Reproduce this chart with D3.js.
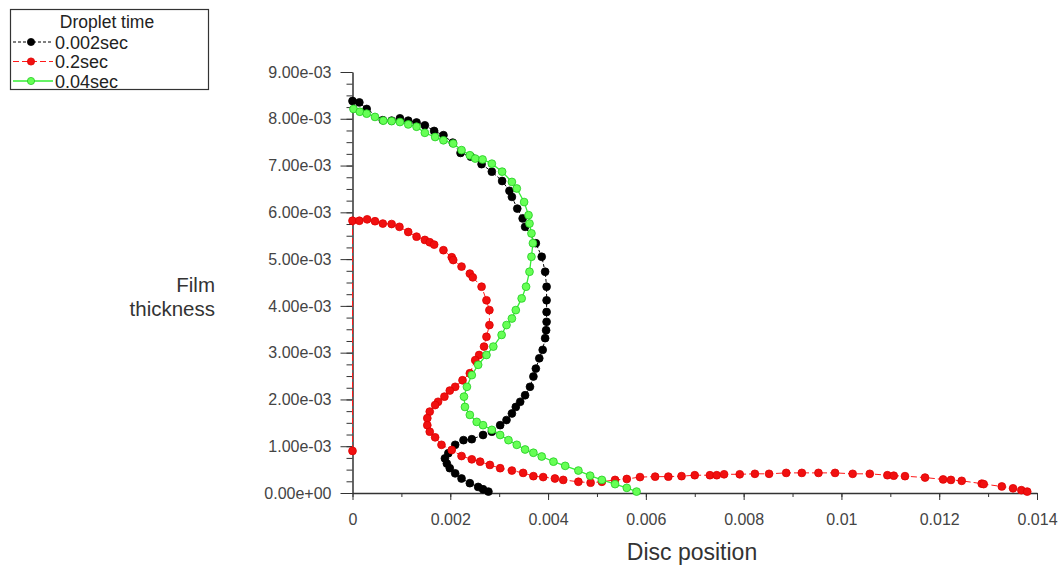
<!DOCTYPE html>
<html><head><meta charset="utf-8">
<script src="https://cdn.jsdelivr.net/npm/d3@7"></script>
<style>body{margin:0;background:#fff}svg{display:block}</style>
</head><body><svg id="c" width="1059" height="568"></svg>
<script>
const legendTitle = "Droplet time";
const seriesNames = ["0.002sec", "0.2sec", "0.04sec"];

const black_x = [0.00000,0.00014,0.00029,0.00062,0.00080,0.00097,0.00114,0.00131,0.00148,0.00167,0.00186,0.00205,0.00221,0.00242,0.00264,0.00285,0.00306,0.00321,0.00326,0.00337,0.00348,0.00353,0.00375,0.00387,0.00394,0.00397,0.00397,0.00397,0.00397,0.00396,0.00394,0.00389,0.00382,0.00375,0.00370,0.00363,0.00353,0.00343,0.00334,0.00326,0.00315,0.00302,0.00285,0.00267,0.00244,0.00227,0.00210,0.00196,0.00189,0.00193,0.00199,0.00210,0.00223,0.00240,0.00257,0.00267,0.00278];
const black_y = [0.00838,0.00835,0.00821,0.00797,0.00796,0.00801,0.00796,0.00792,0.00786,0.00774,0.00765,0.00749,0.00727,0.00719,0.00703,0.00687,0.00667,0.00646,0.00633,0.00608,0.00587,0.00569,0.00534,0.00505,0.00473,0.00441,0.00412,0.00387,0.00366,0.00348,0.00331,0.00306,0.00288,0.00266,0.00249,0.00227,0.00209,0.00195,0.00184,0.00170,0.00156,0.00145,0.00131,0.00124,0.00115,0.00113,0.00103,0.00085,0.00074,0.00063,0.00053,0.00042,0.00031,0.00021,0.00013,0.00008,0.00003];

const red_x = [0.00000,0.00000,0.00014,0.00030,0.00046,0.00062,0.00080,0.00096,0.00114,0.00131,0.00148,0.00158,0.00167,0.00186,0.00203,0.00206,0.00223,0.00240,0.00246,0.00264,0.00274,0.00280,0.00280,0.00274,0.00269,0.00259,0.00251,0.00240,0.00225,0.00210,0.00199,0.00188,0.00175,0.00169,0.00158,0.00153,0.00153,0.00158,0.00169,0.00182,0.00203,0.00223,0.00244,0.00261,0.00281,0.00302,0.00326,0.00349,0.00370,0.00390,0.00414,0.00431,0.00462,0.00487,0.00510,0.00537,0.00561,0.00588,0.00619,0.00646,0.00673,0.00700,0.00731,0.00745,0.00760,0.00792,0.00823,0.00852,0.00887,0.00919,0.00953,0.00987,0.01023,0.01058,0.01094,0.01107,0.01130,0.01171,0.01208,0.01224,0.01246,0.01287,0.01291,0.01328,0.01351,0.01368,0.01380];
const red_y = [0.00090,0.00582,0.00582,0.00585,0.00581,0.00576,0.00575,0.00569,0.00558,0.00548,0.00541,0.00536,0.00531,0.00519,0.00504,0.00498,0.00484,0.00469,0.00461,0.00441,0.00412,0.00391,0.00359,0.00334,0.00313,0.00295,0.00284,0.00256,0.00241,0.00227,0.00219,0.00206,0.00195,0.00188,0.00174,0.00160,0.00145,0.00131,0.00119,0.00103,0.00092,0.00079,0.00072,0.00067,0.00060,0.00053,0.00048,0.00043,0.00036,0.00034,0.00031,0.00028,0.00024,0.00022,0.00024,0.00028,0.00030,0.00034,0.00035,0.00035,0.00036,0.00038,0.00038,0.00038,0.00040,0.00040,0.00041,0.00041,0.00043,0.00043,0.00043,0.00043,0.00041,0.00041,0.00038,0.00037,0.00036,0.00033,0.00029,0.00028,0.00026,0.00020,0.00019,0.00014,0.00010,0.00006,0.00003];

const green_x = [0.00002,0.00015,0.00029,0.00046,0.00063,0.00080,0.00097,0.00114,0.00131,0.00148,0.00169,0.00186,0.00206,0.00223,0.00240,0.00251,0.00266,0.00285,0.00306,0.00326,0.00336,0.00351,0.00360,0.00362,0.00366,0.00369,0.00366,0.00362,0.00355,0.00346,0.00334,0.00326,0.00315,0.00305,0.00288,0.00274,0.00257,0.00244,0.00234,0.00228,0.00230,0.00240,0.00254,0.00267,0.00285,0.00302,0.00319,0.00336,0.00353,0.00370,0.00387,0.00411,0.00435,0.00462,0.00486,0.00510,0.00537,0.00561,0.00581];
const green_y = [0.00821,0.00815,0.00811,0.00804,0.00796,0.00795,0.00793,0.00788,0.00783,0.00770,0.00761,0.00754,0.00747,0.00733,0.00722,0.00715,0.00713,0.00704,0.00687,0.00665,0.00651,0.00622,0.00594,0.00576,0.00555,0.00534,0.00505,0.00473,0.00441,0.00416,0.00391,0.00373,0.00359,0.00338,0.00313,0.00295,0.00274,0.00252,0.00227,0.00206,0.00184,0.00167,0.00152,0.00145,0.00135,0.00124,0.00113,0.00103,0.00093,0.00086,0.00078,0.00067,0.00058,0.00048,0.00037,0.00028,0.00019,0.00011,0.00003];

const xTickValues = [0, 0.002, 0.004, 0.006, 0.008, 0.01, 0.012, 0.014];
const xTickLabels = ["0", "0.002", "0.004", "0.006", "0.008", "0.01", "0.012", "0.014"];
const yTickValues = [0, 0.001, 0.002, 0.003, 0.004, 0.005, 0.006, 0.007, 0.008, 0.009];
const yTickLabels = ["0.00e+00","1.00e-03","2.00e-03","3.00e-03","4.00e-03","5.00e-03","6.00e-03","7.00e-03","8.00e-03","9.00e-03"];
const xTitle = "Disc position";
const yTitle = ["Film", "thickness"];

const seriesData = [
  {name: seriesNames[0], xs: black_x, ys: black_y, line: "#000000", fill: "#000000", stroke: "#000000", dash: "3,2", lw: 1},
  {name: seriesNames[1], xs: red_x, ys: red_y, line: "#ff1a1a", fill: "#f01010", stroke: "#e00000", dash: "6,3", lw: 1},
  {name: seriesNames[2], xs: green_x, ys: green_y, line: "#33ee33", fill: "#66ff55", stroke: "#22cc22", dash: null, lw: 1.3}
];

const svg = d3.select("#c");
const font = "'Liberation Sans', Arial, sans-serif";
const x = d3.scaleLinear().domain([0, 0.014]).range([352.5, 1037]);
const y = d3.scaleLinear().domain([0, 0.009]).range([493, 72]);

// minor ticks
svg.append("g").attr("transform", `translate(0,${y(0)})`)
  .call(d3.axisBottom(x).tickValues(d3.range(0, 15).map(i => i * 0.001)).tickFormat("").tickSize(4).tickSizeOuter(0))
  .call(g => g.select(".domain").remove())
  .call(g => g.selectAll("line").attr("stroke", "#333"));
svg.append("g").attr("transform", `translate(${x(0)},0)`)
  .call(d3.axisLeft(y).tickValues(d3.range(0, 37).map(i => i * 0.00025)).tickFormat("").tickSize(6).tickSizeOuter(0))
  .call(g => g.select(".domain").remove())
  .call(g => g.selectAll("line").attr("stroke", "#333"));

// major axes
const xa = svg.append("g").attr("transform", `translate(0,${y(0)})`)
  .call(d3.axisBottom(x).tickValues(xTickValues).tickFormat((d, i) => xTickLabels[i]).tickSize(7).tickSizeOuter(0).tickPadding(14));
xa.select(".domain").attr("stroke", "#333").attr("stroke-width", 1.5);
xa.selectAll("line").attr("stroke", "#333");
xa.selectAll("text").attr("font-family", font).attr("font-size", 16).attr("fill", "#444");

const ya = svg.append("g").attr("transform", `translate(${x(0)},0)`)
  .call(d3.axisLeft(y).tickValues(yTickValues).tickFormat((d, i) => yTickLabels[i]).tickSize(12).tickSizeOuter(0).tickPadding(9));
ya.select(".domain").attr("stroke", "#333").attr("stroke-width", 1.5);
ya.selectAll("line").attr("stroke", "#333");
ya.selectAll("text").attr("font-family", font).attr("font-size", 16).attr("fill", "#444");

// series
seriesData.forEach(s => {
  const pts = s.xs.map((v, i) => [v, s.ys[i]]);
  svg.append("path").datum(pts)
    .attr("fill", "none").attr("stroke", s.line).attr("stroke-width", s.lw)
    .attr("stroke-dasharray", s.dash)
    .attr("d", d3.line().x(d => x(d[0])).y(d => y(d[1])));
  svg.append("g").selectAll("circle").data(pts).join("circle")
    .attr("cx", d => x(d[0])).attr("cy", d => y(d[1])).attr("r", 3.9)
    .attr("fill", s.fill).attr("stroke", s.stroke).attr("stroke-width", 0.8);
});

// titles
svg.append("text").attr("x", 692).attr("y", 560).attr("text-anchor", "middle")
  .attr("font-family", font).attr("font-size", 23).attr("fill", "#333").text(xTitle);
yTitle.forEach((t, i) => {
  svg.append("text").attr("x", 215).attr("y", 292 + i * 24).attr("text-anchor", "end")
    .attr("font-family", font).attr("font-size", 20.5).attr("fill", "#333").text(t);
});

// legend
const lg = svg.append("g");
lg.append("rect").attr("x", 10.5).attr("y", 9.5).attr("width", 198).attr("height", 80)
  .attr("fill", "#fff").attr("stroke", "#333").attr("stroke-width", 1.2);
lg.append("text").attr("x", 107).attr("y", 28).attr("text-anchor", "middle")
  .attr("font-family", font).attr("font-size", 17.5).attr("fill", "#222").text(legendTitle);
seriesData.forEach((s, i) => {
  const cy = 42 + i * 19.5;
  lg.append("line").attr("x1", 13).attr("x2", 53).attr("y1", cy).attr("y2", cy)
    .attr("stroke", s.line).attr("stroke-width", s.lw).attr("stroke-dasharray", s.dash);
  lg.append("circle").attr("cx", 31).attr("cy", cy).attr("r", 3.6)
    .attr("fill", s.fill).attr("stroke", s.stroke).attr("stroke-width", 0.8);
  lg.append("text").attr("x", 55).attr("y", cy + 6.5).attr("font-family", font)
    .attr("font-size", 18).attr("fill", "#222").text(s.name);
});
</script>
</body></html>
